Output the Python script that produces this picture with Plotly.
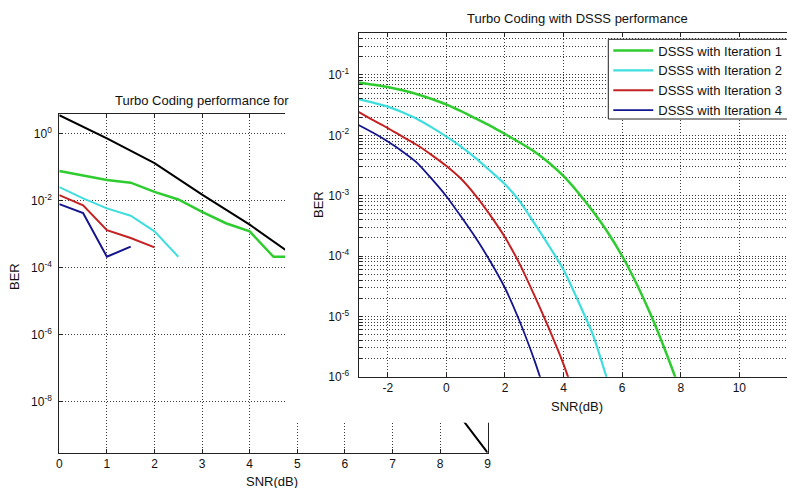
import plotly.graph_objects as go

# ---------------- data: left chart (Turbo Coding performance) ----------------
left_black_snr = [0, 1, 2, 3, 4, 5, 6, 7, 8, 9]
left_black_ber = [3.5, 0.71, 0.13, 1.5e-2, 1.9e-3, 1.9e-4, 1.4e-5, 7.1e-7, 2.2e-8, 3.0e-10]

left_green_snr = [0, 0.5, 1, 1.5, 2, 2.5, 3, 3.5, 4, 4.5, 5]
left_green_ber = [7.6e-2, 5.5e-2, 4.1e-2, 3.4e-2, 1.8e-2, 1.07e-2, 4.6e-3, 2.1e-3, 1.2e-3, 2.1e-4, 2.1e-4]

left_cyan_snr = [0, 0.5, 1, 1.5, 2, 2.5]
left_cyan_ber = [2.5e-2, 1.15e-2, 5.8e-3, 3.5e-3, 1.2e-3, 2.1e-4]

left_red_snr = [0, 0.5, 1, 1.5, 2]
left_red_ber = [1.45e-2, 7.2e-3, 1.3e-3, 7.6e-4, 4.0e-4]

left_blue_snr = [0, 0.5, 1, 1.5]
left_blue_ber = [7.8e-3, 4.2e-3, 2.1e-4, 4.2e-4]

# ---------------- data: right chart (Turbo Coding with DSSS performance) ----------------
it1_snr = [-3, -2.5, -2, -1.5, -1, -0.5, 0, 0.5, 1, 1.5, 2, 2.5, 3, 3.5, 4, 4.5, 5, 5.5, 6, 6.5, 7, 7.5, 8]
it1_ber = [7.5e-2, 6.9e-2, 6.3e-2, 5.56e-2, 4.8e-2, 4.0e-2, 3.24e-2, 2.51e-2, 1.9e-2, 1.43e-2, 1.05e-2,
           7.6e-3, 5.4e-3, 3.5e-3, 2.1e-3, 1.12e-3, 5.5e-4, 2.5e-4, 1.0e-4, 3.4e-5, 1.0e-5, 2.5e-6, 5.6e-7]

it2_snr = [-3, -2.5, -2, -1.5, -1, -0.5, 0, 0.5, 1, 1.5, 2, 2.5, 3, 3.5, 4, 4.5, 5, 5.5]
it2_ber = [3.98e-2, 3.47e-2, 2.99e-2, 2.4e-2, 1.86e-2, 1.35e-2, 9.5e-3, 6.5e-3, 4.2e-3, 2.57e-3, 1.55e-3,
           8.1e-4, 3.5e-4, 1.48e-4, 5.9e-5, 1.78e-5, 5.0e-6, 8.7e-7]

it3_snr = [-3, -2.5, -2, -1.5, -1, -0.5, 0, 0.5, 1, 1.5, 2, 2.5, 3, 3.5, 4, 4.5]
it3_ber = [2.45e-2, 1.78e-2, 1.32e-2, 9.5e-3, 6.9e-3, 4.7e-3, 3.1e-3, 1.9e-3, 1.0e-3, 4.7e-4, 2.04e-4,
           7.4e-5, 2.24e-5, 6.3e-6, 1.6e-6, 3.2e-7]

it4_snr = [-3, -2.5, -2, -1.5, -1, -0.5, 0, 0.5, 1, 1.5, 2, 2.5, 3, 3.5]
it4_ber = [1.48e-2, 1.1e-2, 7.9e-3, 5.4e-3, 3.5e-3, 1.9e-3, 9.8e-4, 4.5e-4, 2.0e-4, 8.1e-5, 2.95e-5,
           8.3e-6, 1.9e-6, 3.5e-7]

legend_names = ["DSSS with Iteration 1", "DSSS with Iteration 2", "DSSS with Iteration 3", "DSSS with Iteration 4"]

left_xticks = [0, 1, 2, 3, 4, 5, 6, 7, 8, 9]
left_yticks = [1e-8, 1e-6, 1e-4, 1e-2, 1]
left_yticktext = ["10<sup>-8</sup>", "10<sup>-6</sup>", "10<sup>-4</sup>", "10<sup>-2</sup>", "10<sup>0</sup>"]

right_xticks = [-2, 0, 2, 4, 6, 8, 10]
right_xticktext = ["-2", "0", "2", "4", "6", "8", "10"]
right_decades = [-6, -5, -4, -3, -2, -1]

# ---------------- styles ----------------
FONT = "Liberation Sans, Arial, Helvetica, sans-serif"
GREEN = "#2fcc2f"
CYAN = "#3fdede"
RED = "#c42222"
BLUE = "#14148c"
GRID = "#3a3a3a"
GDASH = "1px,2px"
# the page body keeps an 8px margin, so the figure is drawn 8px smaller and
# all window positions below are converted into figure coordinates
OFF = 8
W, H = 795 - OFF, 488 - OFF


def px_x(p):
    return (p - OFF) / W


def px_y(p):
    return 1 - (p - OFF) / H


# right y ticks: decades labelled, 2..9 unlabeled (minor grid like MATLAB)
right_yvals, right_ytext = [], []
for d in right_decades:
    for m in range(1, 10):
        right_yvals.append(m * 10.0 ** d)
        right_ytext.append("10<sup>%d</sup>" % d if m == 1 else "")
for m in range(1, 5):
    right_yvals.append(m * 0.1)
    right_ytext.append("" if m > 1 else "10<sup>-1</sup>")

fig = go.Figure()

# left chart traces
for xs, ys, col, w in [
    (left_black_snr, left_black_ber, "#000000", 2),
    (left_green_snr, left_green_ber, GREEN, 2.5),
    (left_cyan_snr, left_cyan_ber, CYAN, 2),
    (left_red_snr, left_red_ber, RED, 2),
    (left_blue_snr, left_blue_ber, BLUE, 2),
]:
    fig.add_trace(go.Scatter(x=xs, y=ys, mode="lines", line=dict(color=col, width=w),
                             xaxis="x", yaxis="y", showlegend=False, hoverinfo="skip"))

# cover layer (the second figure's white canvas lying on top of the first)
fig.add_trace(go.Scatter(x=[None], y=[None], xaxis="x2", yaxis="y2", showlegend=False, hoverinfo="skip"))

# right chart traces
for xs, ys, col, w, name in [
    (it1_snr, it1_ber, GREEN, 2.5, legend_names[0]),
    (it2_snr, it2_ber, CYAN, 2.2, legend_names[1]),
    (it3_snr, it3_ber, RED, 2, legend_names[2]),
    (it4_snr, it4_ber, BLUE, 1.8, legend_names[3]),
]:
    fig.add_trace(go.Scatter(x=xs, y=ys, mode="lines",
                             line=dict(color=col, width=w, shape="spline", smoothing=0.6),
                             xaxis="x3", yaxis="y3", name=name, hoverinfo="skip"))

axis_common = dict(showline=True, linecolor="#222", linewidth=1, ticks="inside", ticklen=4,
                   tickcolor="#222", zeroline=False, showgrid=True, gridcolor=GRID, gridwidth=1,
                   griddash=GDASH, automargin=False,
                   tickfont=dict(family=FONT, size=12, color="#111"))

TXT = dict(size=13)

fig.update_layout(
    width=W, height=H,
    margin=dict(l=0, r=0, t=0, b=0, autoexpand=False),
    paper_bgcolor="white", plot_bgcolor="white",
    font=dict(family=FONT, size=12, color="#111"),
    xaxis=dict(axis_common, domain=[px_x(59.3), px_x(487.7)], anchor="y", range=[0, 9],
               tickvals=left_xticks, mirror="ticks"),
    yaxis=dict(axis_common, domain=[px_y(452.7), px_y(114.3)], anchor="x", type="log",
               range=[-9.52, 0.57], tickvals=left_yticks, ticktext=left_yticktext, mirror="ticks",
               ticklabelstandoff=4),
    xaxis2=dict(visible=False, domain=[px_x(285), 1], anchor="y2", range=[0, 1]),
    yaxis2=dict(visible=False, domain=[px_y(422.7), 1], anchor="x2", range=[0, 1]),
    xaxis3=dict(axis_common, domain=[px_x(358.5), 1], anchor="y3", range=[-3, 11.9],
                tickvals=right_xticks, ticktext=right_xticktext, mirror="ticks"),
    yaxis3=dict(axis_common, domain=[px_y(376.7), px_y(32.7)], anchor="x3", type="log",
                range=[-6, -0.3], tickvals=right_yvals, ticktext=right_ytext, ticklen=3,
                ticklabelstandoff=6),
    # legend frame (MATLAB legend box) drawn over the curves, entries on top of it
    shapes=[dict(type="rect", xref="paper", yref="paper", layer="above",
                 x0=px_x(608.3), x1=px_x(792), y0=px_y(119), y1=px_y(39.3),
                 fillcolor="white", line=dict(color="#222", width=1))],
    legend=dict(x=px_x(608.3), y=px_y(35.5), xanchor="left", yanchor="top",
                bgcolor="rgba(0,0,0,0)", borderwidth=0,
                font=dict(family=FONT, size=13, color="#111"), itemwidth=40, tracegroupgap=0),
    annotations=[
        dict(text="Turbo Coding with DSSS performance", x=px_x(577), y=px_y(18),
             xref="paper", yref="paper", showarrow=False, xanchor="center", yanchor="middle",
             font=TXT),
        dict(text="Turbo Coding performance for", x=px_x(112.7), y=px_y(100),
             xref="paper", yref="paper", showarrow=False, xanchor="left", yanchor="middle",
             font=TXT),
        dict(text="BER", x=px_x(14), y=px_y(277), xref="paper", yref="paper", showarrow=False,
             textangle=-90, xanchor="center", yanchor="middle", font=TXT),
        dict(text="BER", x=px_x(318), y=px_y(205), xref="paper", yref="paper", showarrow=False,
             textangle=-90, xanchor="center", yanchor="middle", font=TXT),
        dict(text="SNR(dB)", x=px_x(272), y=px_y(481), xref="paper", yref="paper", showarrow=False,
             xanchor="center", yanchor="middle", font=TXT),
        dict(text="SNR(dB)", x=px_x(577), y=px_y(406), xref="paper", yref="paper", showarrow=False,
             xanchor="center", yanchor="middle", font=TXT),
        dict(text="12", x=px_x(797.7), y=px_y(388.5), xref="paper", yref="paper", showarrow=False,
             xanchor="center", yanchor="middle", font=dict(size=12)),
    ],
)

fig.write_html("out.html")
